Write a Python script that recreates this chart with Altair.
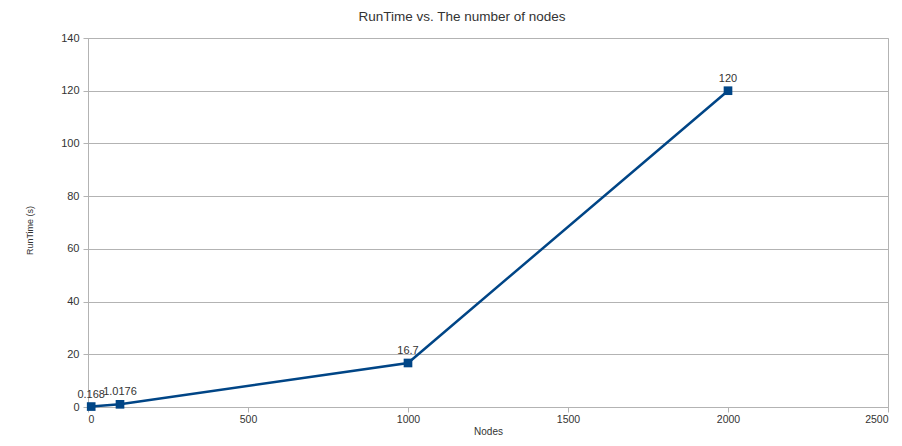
import altair as alt
import pandas as pd

nodes = [10, 100, 1000, 2000]
runtime = [0.168, 1.0176, 16.7, 120]
labels = ["0.168", "1.0176", "16.7", "120"]

df = pd.DataFrame({"Nodes": nodes, "RunTime": runtime, "label": labels})

FONT = "Liberation Sans"
BLUE = "#004586"

x = alt.X("Nodes:Q", scale=alt.Scale(domain=[0, 2500], nice=False),
          axis=alt.Axis(values=[0, 500, 1000, 1500, 2000, 2500], format="d", grid=False,
                        title="Nodes", titleFontSize=10, titleFontWeight="normal",
                        titlePadding=2, labelFontSize=10.5, labelPadding=2,
                        tickSize=5, tickColor="#b3b3b3", domainColor="#b3b3b3",
                        labelColor="#333333", titleColor="#333333", labelFont=FONT, titleFont=FONT))
y = alt.Y("RunTime:Q", scale=alt.Scale(domain=[0, 140], nice=False),
          axis=alt.Axis(values=[0, 20, 40, 60, 80, 100, 120, 140], grid=True,
                        gridColor="#b3b3b3", title="RunTime (s)", titleFontSize=9,
                        titleFontWeight="normal", titleX=-54, titleY=192,
                        labelFontSize=11, labelPadding=4, tickSize=5,
                        tickColor="#b3b3b3", domainColor="#b3b3b3",
                        labelColor="#333333", titleColor="#333333", labelFont=FONT, titleFont=FONT))

base = alt.Chart(df).encode(x=x, y=y)
line = base.mark_line(color=BLUE, strokeWidth=2.5)
pts = base.mark_point(shape="square", filled=True, color=BLUE, size=75, opacity=1)
txt = base.mark_text(dy=-12, fontSize=11, color="#333333", font=FONT).encode(text="label:N")

chart = (line + pts + txt).properties(
    width=800, height=369,
    title=alt.TitleParams("RunTime vs. The number of nodes", fontSize=13.5, font=FONT,
                          fontWeight="normal", color="#333333", anchor="middle", dx=-26, offset=9),
    autosize=alt.AutoSizeParams(type="none"),
    padding={"left": 80, "top": 30, "right": 6, "bottom": 31},
).configure_view(stroke="#b3b3b3")

chart.save("out.html", embed_options={"renderer": "svg", "actions": False})
